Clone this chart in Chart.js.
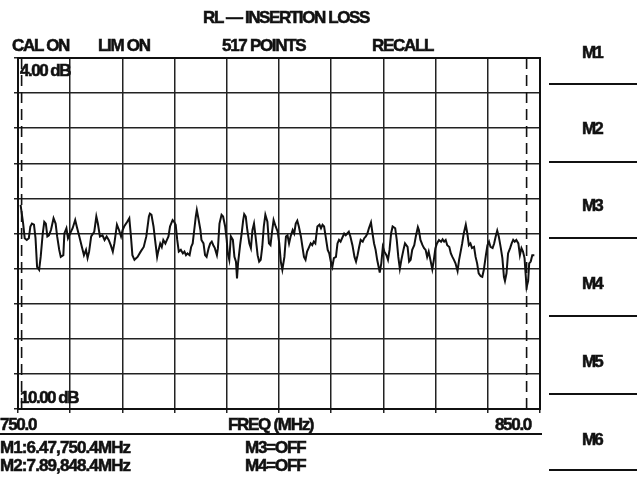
<!DOCTYPE html>
<html>
<head>
<meta charset="utf-8">
<script src="https://cdn.jsdelivr.net/npm/chart.js@4.4.0/dist/chart.umd.min.js"></script>
<style>
  html, body { margin: 0; padding: 0; background: #fff; }
  #wrap { position: relative; width: 637px; height: 483px; overflow: hidden; background: #fff; }
  #c { position: absolute; left: 0; top: 0; }
  .t { position: absolute; white-space: nowrap; line-height: 1; color: #111;
       font-family: "Liberation Sans Narrow", "Arial Narrow", "Liberation Sans", Arial, sans-serif;
       font-weight: bold; font-size: 18px; letter-spacing: -1.3px;
       -webkit-text-stroke: 0.55px #111; transform: translateY(-50%); }
  .c { transform: translate(-50%, -50%); }
  .r { transform: translate(-100%, -50%); }
  .hl { position: absolute; height: 2px; background: #111; }
</style>
</head>
<body>
<div id="wrap">
  <canvas id="c" width="637" height="483"></canvas>
</div>
<script>
// ---- data ----
const freqMHz = [
750.2,750.7,751.0,751.4,751.8,752.1,752.4,752.8,753.1,753.4,753.8,754.1,754.5,754.8,755.1,755.4,755.7,756.1,756.6,757.0,
757.3,757.7,758.0,758.5,758.7,759.1,759.4,759.8,760.3,760.8,761.1,761.6,762.1,762.5,762.9,763.2,763.5,763.9,764.5,764.9,
765.2,765.6,766.1,766.5,766.9,767.3,767.7,768.1,768.4,768.9,769.3,769.7,770.0,770.3,770.9,771.3,771.6,771.9,772.3,772.9,
773.5,774.1,774.6,775.1,775.3,775.6,776.0,776.3,776.7,776.9,777.3,777.6,777.9,778.3,778.6,778.9,779.2,779.7,780.0,780.3,
780.6,780.9,781.3,781.7,782.0,782.3,782.6,783.0,783.3,783.6,783.9,784.2,784.4,784.7,785.1,785.3,785.7,786.0,786.3,786.7,
787.0,787.3,787.6,787.9,788.3,788.5,788.8,789.2,789.5,789.9,790.2,790.4,790.7,791.0,791.4,791.7,792.0,792.2,792.4,792.8,
793.1,793.4,793.6,793.9,794.2,794.6,794.9,795.2,795.5,795.8,796.2,796.5,796.8,797.1,797.4,797.7,798.1,798.4,798.7,799.0,
799.3,799.7,800.1,800.4,800.7,801.0,801.4,801.7,802.0,802.3,802.6,803.0,803.3,803.6,803.9,804.2,804.6,804.9,805.2,805.5,
805.8,806.1,806.5,806.8,807.1,807.4,807.8,808.2,808.5,808.8,809.1,809.4,809.8,810.1,810.4,810.7,811.0,811.4,811.7,812.0,
812.3,812.6,813.0,813.3,813.6,813.9,814.2,814.6,815.0,815.3,815.6,815.9,816.2,816.6,816.9,817.2,817.5,817.8,818.2,818.5,
818.8,819.1,819.4,819.8,819.9,820.2,820.5,820.8,821.2,821.5,821.8,822.1,822.4,822.9,823.2,823.5,823.8,824.1,824.5,824.8,
825.3,825.6,825.9,826.2,826.6,826.9,827.3,827.5,827.8,828.2,828.5,828.8,829.1,829.4,829.8,830.1,830.4,830.7,831.0,831.4,
831.8,832.1,832.4,832.7,833.0,833.4,833.7,834.0,834.3,834.6,835.0,835.3,835.6,835.9,836.2,836.6,836.9,837.2,837.5,837.8,
838.2,838.5,838.8,839.1,839.5,839.8,840.1,840.5,840.8,841.1,841.4,841.8,842.1,842.4,842.7,843.0,843.4,843.7,844.0,844.2,
844.5,844.8,845.2,845.5,845.8,846.1,846.4,846.8,847.1,847.4,847.7,848.0,848.2,848.4,848.7,848.9,849.2,849.5,849.9
];
const lossDB = [
6.51,6.83,7.08,7.11,7.08,6.88,6.83,6.85,7.08,7.57,7.62,7.40,7.00,6.80,6.83,7.05,7.03,6.94,6.74,6.83,
7.05,7.28,7.40,7.37,7.00,6.91,7.08,7.00,6.91,6.77,6.88,7.05,7.23,7.37,7.28,7.42,7.31,7.05,6.97,6.71,
6.83,7.05,7.03,7.11,7.05,7.11,7.20,7.31,7.17,6.85,6.94,7.05,6.94,6.88,6.80,6.74,7.03,7.37,7.45,7.40,
7.31,7.23,7.05,6.71,6.66,6.68,6.88,7.11,7.40,7.31,7.17,7.23,7.11,7.17,7.11,7.05,6.88,6.77,6.80,6.85,
7.11,7.31,7.28,7.34,7.31,7.37,7.34,7.37,7.23,7.17,6.94,6.71,6.60,6.74,6.94,7.11,7.17,7.37,7.40,7.25,
7.17,7.14,7.20,7.25,7.37,7.25,6.83,6.68,6.71,6.88,7.11,7.34,7.45,7.05,7.11,7.40,7.48,7.77,7.51,7.20,
7.00,6.77,6.67,6.71,6.94,7.17,7.25,6.94,6.83,7.05,7.37,7.48,7.45,7.23,6.88,6.68,6.80,7.17,7.20,6.97,
6.77,6.88,6.97,7.17,7.48,7.62,7.40,7.05,7.03,7.17,7.05,6.94,7.00,6.83,6.78,6.88,7.05,7.23,7.40,7.45,
7.31,7.25,7.17,7.20,7.14,7.17,6.88,6.85,6.91,6.85,6.88,7.05,7.28,7.34,7.48,7.57,7.42,7.40,7.17,7.11,
7.14,7.08,7.00,7.03,7.00,6.97,7.05,7.20,7.40,7.48,7.37,7.23,7.11,7.14,7.08,7.05,7.00,6.91,6.81,7.00,
7.17,7.28,7.45,7.62,7.67,7.51,7.23,7.31,7.37,7.45,7.28,7.00,6.88,6.91,7.11,7.40,7.60,7.45,7.28,7.17,
7.23,7.48,7.45,7.28,7.20,7.05,6.89,6.94,7.11,7.20,7.25,7.28,7.40,7.31,7.48,7.61,7.45,7.25,7.17,7.11,
7.14,7.10,7.14,7.11,7.20,7.23,7.34,7.40,7.45,7.51,7.64,7.45,7.31,7.17,7.00,6.85,7.00,7.20,7.17,7.25,
7.23,7.40,7.51,7.68,7.73,7.74,7.62,7.37,7.20,7.14,7.23,7.25,7.17,7.05,6.95,7.05,7.25,7.42,7.74,7.81,
7.68,7.34,7.25,7.17,7.11,7.14,7.11,7.17,7.37,7.25,7.31,7.42,7.68,7.92,7.81,7.51,7.48,7.37,7.37
];
const markerNames = ["M1", "M2"];
const markerFreqMHz = [750.4, 848.4];
const markerLossDB = [6.47, 7.89];
const scaleTopDB = 4.00;
const scaleBottomDB = 10.00;
const boxStartMHz = 749.7;   // left edge of the graticule
const boxEndMHz = 851.0;     // right edge of the graticule
const freqTickLabels = ["750.0", "850.0"];
const softKeys = ["M1", "M2", "M3", "M4", "M5", "M6"];
const headerItems = ["CAL ON", "LIM ON", "517 POINTS", "RECALL"];
const title = "RL \u2014 INSERTION LOSS";

// ---- page text ----
const wrap = document.getElementById('wrap');
function addText(txt, x, y, cls, size, ls) {
  const d = document.createElement('div');
  d.className = 't' + (cls ? ' ' + cls : '');
  d.textContent = txt;
  d.style.left = x + 'px';
  d.style.top = y + 'px';
  if (size) d.style.fontSize = size + 'px';
  if (ls !== undefined) d.style.letterSpacing = ls + 'px';
  wrap.appendChild(d);
}
function addLine(x, y, w) {
  const d = document.createElement('div');
  d.className = 'hl';
  d.style.left = x + 'px'; d.style.top = y + 'px'; d.style.width = w + 'px';
  wrap.appendChild(d);
}
addText(title, 286, 17, 'c', 17, -1.4);
const headerX = [12, 98, 222, 372];
headerItems.forEach((h, i) => addText(h, headerX[i], 45, '', 17, -1.3));
const keyY = [52, 128, 205, 283, 361, 439];
softKeys.forEach((k, i) => addText(k, 592, keyY[i], 'c', 17, -1.8));
[84, 162, 238, 316, 394, 470].forEach(y => addLine(549, y - 1, 88));
addText(scaleTopDB.toFixed(2) + " dB", 20, 70, '', 17, -1.5);
addText(scaleBottomDB.toFixed(2) + " dB", 20, 397, '', 17, -1.5);
addText(freqTickLabels[0], 0, 424, '', 17, -1.3);
addText("FREQ (MHz)", 228, 424, '', 17, -1.3);
addText(freqTickLabels[1], 531, 424, 'r', 17, -1.3);
addLine(0, 433, 542);
addText(markerNames[0] + ":" + markerLossDB[0].toFixed(2) + "," + markerFreqMHz[0].toFixed(1) + "MHz", 0, 447, '', 17, -0.9);
addText(markerNames[1] + ":" + markerLossDB[1].toFixed(2) + "," + markerFreqMHz[1].toFixed(1) + "MHz", 0, 465, '', 17, -0.9);
addText("M3=OFF", 245, 447, '', 17, -1.2);
addText("M4=OFF", 245, 465, '', 17, -1.2);

// ---- chart ----
const trace = freqMHz.map((f, i) => ({ x: f, y: lossDB[i] }));
const markerSets = markerFreqMHz.map(f => ({
  data: [{ x: f, y: scaleTopDB }, { x: f, y: scaleBottomDB }],
  borderColor: '#111', borderWidth: 1.6, borderDash: [11, 6],
  pointRadius: 0, fill: false, tension: 0
}));

const boxPlugin = {
  id: 'box',
  afterDraw(chart) {
    const { ctx, chartArea: a } = chart;
    ctx.save();
    ctx.strokeStyle = '#111';
    ctx.lineWidth = 2;
    ctx.strokeRect(a.left, a.top, a.right - a.left, a.bottom - a.top);
    ctx.restore();
  }
};

function evenTicks(lo, hi) {
  return axis => { axis.ticks = Array.from({ length: 11 }, (_, i) => ({ value: lo + i * (hi - lo) / 10 })); };
}

new Chart(document.getElementById('c'), {
  type: 'line',
  data: {
    datasets: [
      { data: trace, borderColor: '#111', borderWidth: 2, pointRadius: 0, fill: false, tension: 0 },
      ...markerSets
    ]
  },
  options: {
    responsive: false,
    animation: false,
    devicePixelRatio: 1,
    layout: { padding: { left: 14, top: 58, right: 97, bottom: 70 } },
    plugins: { legend: { display: false }, tooltip: { enabled: false }, title: { display: false } },
    scales: {
      x: {
        type: 'linear', min: boxStartMHz, max: boxEndMHz,
        afterBuildTicks: evenTicks(boxStartMHz, boxEndMHz),
        ticks: { display: false },
        grid: { color: '#222', lineWidth: 1.5, drawTicks: true, tickLength: 4, tickColor: '#222' },
        border: { display: true, color: '#111', width: 2 }
      },
      y: {
        type: 'linear', min: scaleTopDB, max: scaleBottomDB, reverse: true,
        afterBuildTicks: evenTicks(scaleTopDB, scaleBottomDB),
        ticks: { display: false },
        grid: { color: '#222', lineWidth: 1.5, drawTicks: true, tickLength: 4, tickColor: '#222' },
        border: { display: true, color: '#111', width: 2 }
      }
    }
  },
  plugins: [boxPlugin]
});
</script>
</body>
</html>
